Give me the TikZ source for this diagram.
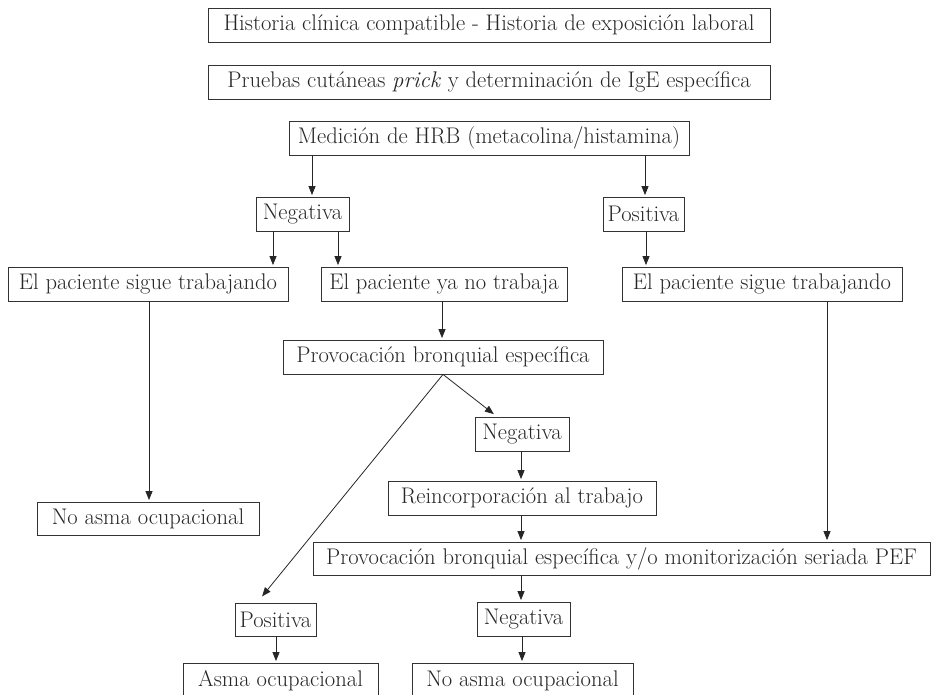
\documentclass[tikz,border=0pt]{standalone}
\usepackage{fontspec}
\usetikzlibrary{arrows.meta}
\begin{document}
\begin{tikzpicture}[x=1pt,y=-1pt,
  box/.style={draw=black!80, line width=0.8pt, inner sep=0pt, text=black!85,
    font=\fontsize{22.6}{26}\selectfont},
  arr/.style={draw=black!85, line width=0.8pt, -{Triangle[length=9pt,width=7pt]}, shorten >=1.5pt}]
\useasboundingbox (0,0) rectangle (941,694);
\clip (0,0) rectangle (941,694);
\newcommand\bx[6]{\node[box,minimum width={(#4-#2)*1pt},minimum height={(#5-#3)*1pt}] (#1) at ({(#2+#4)/2},{(#3+#5)/2}) {#6};}
\bx{hist}{208}{8}{770}{42}{Historia clínica compatible - Historia de exposición laboral}
\bx{prick}{208}{65}{770}{99}{Pruebas cutáneas \textit{prick} y determinación de IgE específica}
\bx{hrb}{289}{121}{689}{155}{Medición de HRB (metacolina/histamina)}
\bx{negA}{256}{197}{349}{231}{Negativa}
\bx{posA}{603}{197}{684}{231}{Positiva}
\bx{sigueA}{8}{267}{288}{301}{El paciente sigue trabajando}
\bx{yano}{321}{267}{567}{301}{El paciente ya no trabaja}
\bx{sigueB}{622}{267}{902}{301}{El paciente sigue trabajando}
\bx{prov}{283}{340}{603}{374}{Provocación bronquial específica}
\bx{negB}{475}{417}{569}{451}{Negativa}
\bx{noasmaA}{37}{502}{259}{535}{No asma ocupacional}
\bx{reinc}{388}{481}{656}{515}{Reincorporación al trabajo}
\bx{pef}{313}{542}{930}{575}{Provocación bronquial específica y/o monitorización seriada PEF}
\bx{posB}{235}{603}{316}{636}{Positiva}
\bx{negC}{477}{602}{570}{636}{Negativa}
\bx{asma}{183}{663}{378}{698}{Asma ocupacional}
\bx{noasmaB}{412}{663}{633}{698}{No asma ocupacional}
% connectors
\draw[arr] (hrb.south -| 312,0) -- (negA.north -| 312,0);
\draw[arr] (hrb.south -| 645,0) -- (posA.north -| 645,0);
\draw[arr] (negA.south -| 273,0) -- (sigueA.north -| 273,0);
\draw[arr] (negA.south -| 338,0) -- (yano.north -| 338,0);
\draw[arr] (posA.south -| 646,0) -- (sigueB.north -| 646,0);
\draw[arr] (sigueA.south -| 149,0) -- (noasmaA.north -| 149,0);
\draw[arr] (yano.south -| 442,0) -- (prov.north -| 442,0);
\draw[arr, shorten >=4pt] (prov.south -| 443,0) -- (negB.north -| 497,0);
\draw[arr, shorten >=8pt] (prov.south -| 443,0) -- (posB.north -| 257,0);
\draw[arr] (negB.south -| 521,0) -- (reinc.north -| 521,0);
\draw[arr] (reinc.south -| 521,0) -- (pef.north -| 521,0);
\draw[arr] (sigueB.south -| 827,0) -- (pef.north -| 827,0);
\draw[arr] (pef.south -| 521,0) -- (negC.north -| 521,0);
\draw[arr] (negC.south -| 522,0) -- (noasmaB.north -| 522,0);
\draw[arr] (posB.south -| 276,0) -- (asma.north -| 276,0);
\end{tikzpicture}
\end{document}
